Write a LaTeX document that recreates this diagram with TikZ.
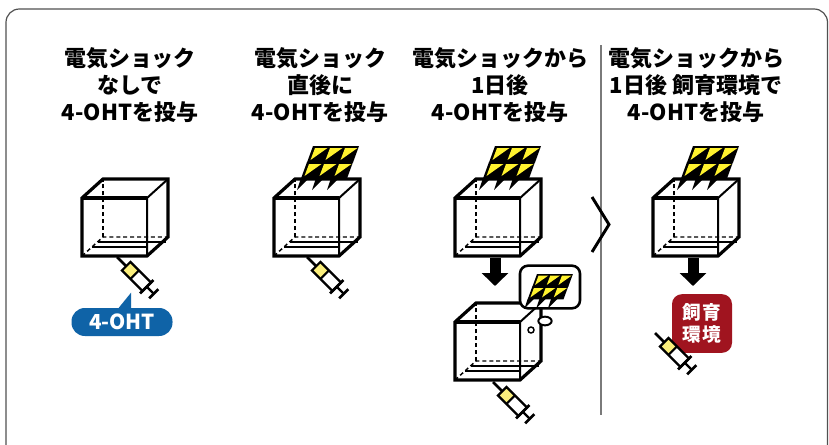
\documentclass[tikz,border=0pt]{standalone}
\usepackage{fontspec}
\newfontfamily\jp{Noto Sans CJK JP}
\usetikzlibrary{arrows.meta,shapes.geometric}

\definecolor{boltyellow}{HTML}{FFF22E}
\definecolor{syryellow}{HTML}{FBEF7C}
\definecolor{ohtblue}{HTML}{0F63A7}
\definecolor{envred}{HTML}{A0141F}
\definecolor{framegray}{HTML}{505050}
\definecolor{divgray}{HTML}{7A7A7A}

\tikzset{
  % cube edges
  outline/.style={line width=2.4pt, line join=miter},
  inner edge/.style={line width=1.5pt},
  hidden edge/.style={line width=1.1pt, dash pattern=on 3pt off 2.2pt},
  bedding/.style={line width=1.1pt},
  % a transparent cage seen from above right; origin at the front bottom left corner
  cage/.pic={
    \draw[hidden edge] (0,0) -- (21,-19) -- (86,-19);
    \draw[hidden edge] (21,-19) -- (21,-77);
    \draw[bedding] (10,-9) -- (64,-9);
    \draw[bedding] (15.5,-14) -- (84,-14);
    \draw[inner edge] (65,0) -- (65,-58) -- (86,-77);
    \draw[outline] (0,-58) -- (65,-58);
    \draw[outline] (0,0) -- (0,-58) -- (21,-77) -- (86,-77) -- (86,-19) -- (65,0) -- cycle;
  },
  % block of lightning bolts; origin at its top left corner
  zap/.pic={
    \foreach \r in {0,1} {
      \fill[black] ({-6*\r},{16*\r}) -- ({46-6*\r},{16*\r}) -- ({40-6*\r},{16*\r+16.5}) -- ({-6-6*\r},{16*\r+16.5}) -- cycle;
      \foreach \i in {0,1,2}
        \fill[boltyellow] ({2+15*\i-6*\r},{16*\r+2}) -- ({14.5+15*\i-6*\r},{16*\r+2}) -- ({-2.5+15*\i-6*\r},{16*\r+14}) -- cycle;
    }
    \foreach \i in {0,1,2}
      \fill[black] ({-12+15*\i},32) -- ({-4+15*\i},32) -- ({-16+15*\i},44) -- cycle;
  },
  % syringe pointing up left; origin at the needle tip
  jab/.pic={
    \begin{scope}[rotate=-45]
      \draw[line width=2pt] (0,0) -- (13,0);
      \fill[syryellow] (13,-6) rectangle (25,6);
      \fill[white] (25,-6) rectangle (42,6);
      \draw[line width=1.7pt] (13,-6) rectangle (42,6);
      \draw[line width=1.7pt] (25,-6) -- (25,6);
      \draw[line width=2pt] (42,-9.5) -- (42,9.5);
      \draw[line width=1.7pt] (42,0) -- (52,0);
      \draw[line width=2pt] (52,-6.5) -- (52,6.5);
    \end{scope}
  },
  title/.style={align=center, font=\jp\bfseries\fontsize{16.5}{20}\selectfont},
  down arrow/.style={line width=8.25pt, -{Triangle[width=19.5pt,length=9.75pt]}},
  pill/.style={fill=ohtblue, text=white, rounded corners=10pt, minimum width=75.75pt,
    minimum height=21pt, inner sep=0pt, font=\jp\bfseries\fontsize{15.5}{18}\selectfont},
  envbox/.style={fill=envred, text=white, rounded corners=7.5pt, minimum width=45pt,
    minimum height=44pt, inner sep=0pt, align=center,
    font=\jp\bfseries\fontsize{14}{16.5}\selectfont},
  bubble/.style={draw, fill=white, line width=1.9pt, rounded corners=6pt,
    minimum width=45pt, minimum height=32pt, inner sep=0pt},
  puff/.style={draw, fill=white, ellipse, line width=1.5pt, inner sep=0pt},
}

\begin{document}
\begin{tikzpicture}[x=0.75pt, y=-0.75pt]
  \useasboundingbox (0,0) rectangle (829,444);
  \fill[white] (0,0) rectangle (829,444);

  % frame and divider
  \draw[framegray, line width=0.9pt, rounded corners=10pt] (6,470) -- (6,9) -- (827.5,9) -- (827.5,470);
  \draw[divgray, line width=0.9pt] (601,45) -- (601,415);
  \draw[line width=2.2pt] (592,197) -- (609,224.5) -- (592,252);

  % column titles
  \node[title] (t1) at (130,85) {電気ショック\\なしで\\4-OHTを投与};
  \node[title] (t2) at (320,85) {電気ショック\\直後に\\4-OHTを投与};
  \node[title] (t3) at (500,85) {電気ショックから\\1日後\\4-OHTを投与};
  \node[title] (t4) at (696,85) {電気ショックから\\1日後 飼育環境で\\4-OHTを投与};

  % column 1: no shock
  \pic at (82,256) {cage};
  \pic at (117,257) {jab};
  \node[pill] (oht) at (122,322) {4-OHT};
  \fill[ohtblue] ([shift={(-4,1)}]oht.north) -- ([shift={(9,-15)}]oht.north) -- ([shift={(9,1)}]oht.north) -- cycle;

  % column 2: right after the shock
  \pic at (274,256) {cage};
  \pic at (313,146) {zap};
  \pic at (307,257) {jab};

  % column 3: one day after the shock
  \pic at (455,256) {cage};
  \pic at (495,146) {zap};
  \coordinate (a3s) at (495,258);
  \coordinate (a3e) at (495,286);
  \draw[down arrow] (a3s) -- (a3e);
  \pic at (455,380) {cage};
  \node[bubble] (bub) at (550,287) {};
  \pic[scale=0.78] at (537,274) {zap};
  \node[puff, minimum width=10pt, minimum height=6.5pt] (puff1) at (545,321) {};
  \node[puff, line width=1.1pt, minimum width=4.5pt, minimum height=4.5pt] (puff2) at (531,330) {};
  \pic at (493,382) {jab};

  % column 4: one day after, in the home cage
  \pic at (653,256) {cage};
  \pic at (693,146) {zap};
  \coordinate (a4s) at (693,258);
  \coordinate (a4e) at (693,286);
  \draw[down arrow] (a4s) -- (a4e);
  \node[envbox] (env) at (702,323.5) {飼\hspace{1pt}育\\環\hspace{1pt}境};
  \pic at (655,333) {jab};
\end{tikzpicture}
\end{document}
